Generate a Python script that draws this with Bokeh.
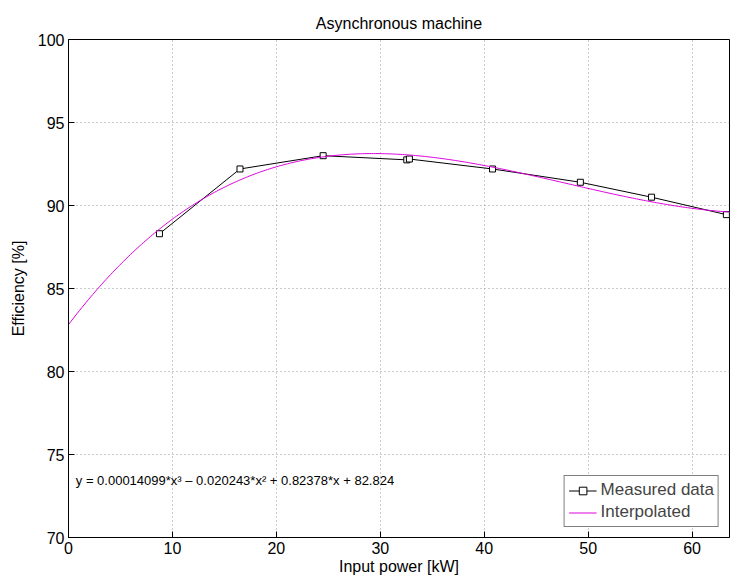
import numpy as np
from bokeh.plotting import figure
from bokeh.models import Legend, LegendItem, Label, FixedTicker
from bokeh.embed import file_html
from bokeh.resources import INLINE

power_kw = [8.75, 16.5, 24.5, 32.55, 32.8, 40.8, 49.25, 56.1, 63.3]
efficiency = [88.3, 92.2, 93.0, 92.75, 92.8, 92.2, 91.4, 90.5, 89.45]

# Cubic fit coefficients as printed on the chart
fit_coeffs = [0.00014099, -0.020243, 0.82378, 82.824]
fit_label = "y = 0.00014099*x\u00b3 \u2013 0.020243*x\u00b2 + 0.82378*x + 82.824"

x_ticks = [0, 10, 20, 30, 40, 50, 60]
y_ticks = [70, 75, 80, 85, 90, 95, 100]

FONT = "Liberation Sans"

p = figure(width=730, height=580, output_backend="svg", toolbar_location=None,
           x_range=(0, 63.6), y_range=(70, 100),
           min_border_left=68, min_border_right=1, min_border_top=39, min_border_bottom=43,
           title="Asynchronous machine")

p.title.align = "center"
p.title.text_font = FONT
p.title.text_font_size = "16px"
p.title.text_font_style = "normal"
p.title.text_color = "black"
p.title.standoff = 16

p.outline_line_color = "black"
p.outline_line_width = 1
p.outline_line_alpha = 1

for ax in (p.xaxis[0], p.yaxis[0]):
    ax.major_label_text_font = FONT
    ax.major_label_text_font_size = "16px"
    ax.major_label_text_color = "black"
    ax.axis_label_text_font = FONT
    ax.axis_label_text_font_size = "16px"
    ax.axis_label_text_font_style = "normal"
    ax.axis_label_text_color = "black"
    ax.major_tick_in = 6
    ax.major_tick_out = 0
    ax.minor_tick_in = 0
    ax.minor_tick_out = 0
    ax.axis_line_color = "black"
    ax.major_tick_line_color = "black"

p.xaxis.ticker = FixedTicker(ticks=x_ticks)
p.yaxis.ticker = FixedTicker(ticks=y_ticks)
p.xaxis.axis_label = "Input power [kW]"
p.yaxis.axis_label = "Efficiency [%]"
p.xaxis.major_label_standoff = 4
p.yaxis.major_label_standoff = 4
p.xaxis.axis_label_standoff = 1
p.yaxis.axis_label_standoff = 8

p.grid.grid_line_color = "#999999"
p.grid.grid_line_dash = "1 3"
p.grid.grid_line_width = 1

xs = np.linspace(0, 63.6, 300)
ys = np.polyval(fit_coeffs, xs)

r_meas = p.line(power_kw, efficiency, line_color="black", line_width=1)
r_pts = p.scatter(power_kw, efficiency, marker="square", size=6, fill_color="white",
                  line_color="black", line_width=1)
r_fit = p.line(xs, ys, line_color="#dd00dd", line_width=1)

p.add_layout(Label(x=0.7, y=73.45, text=fit_label, text_font=FONT, text_font_size="13px",
                   text_color="black", text_baseline="middle"))

legend = Legend(items=[LegendItem(label="Measured data", renderers=[r_meas, r_pts]),
                       LegendItem(label="Interpolated", renderers=[r_fit])],
                location="bottom_right")
legend.label_text_font = FONT
legend.label_text_font_size = "17px"
legend.label_height = 19
legend.glyph_height = 19
legend.glyph_width = 28
legend.spacing = 2
legend.padding = 4
legend.margin = 10
legend.border_line_color = "black"
legend.border_line_width = 1
legend.background_fill_alpha = 1
legend.label_standoff = 4
p.add_layout(legend)

open("out.html", "w").write(file_html(p, INLINE))
